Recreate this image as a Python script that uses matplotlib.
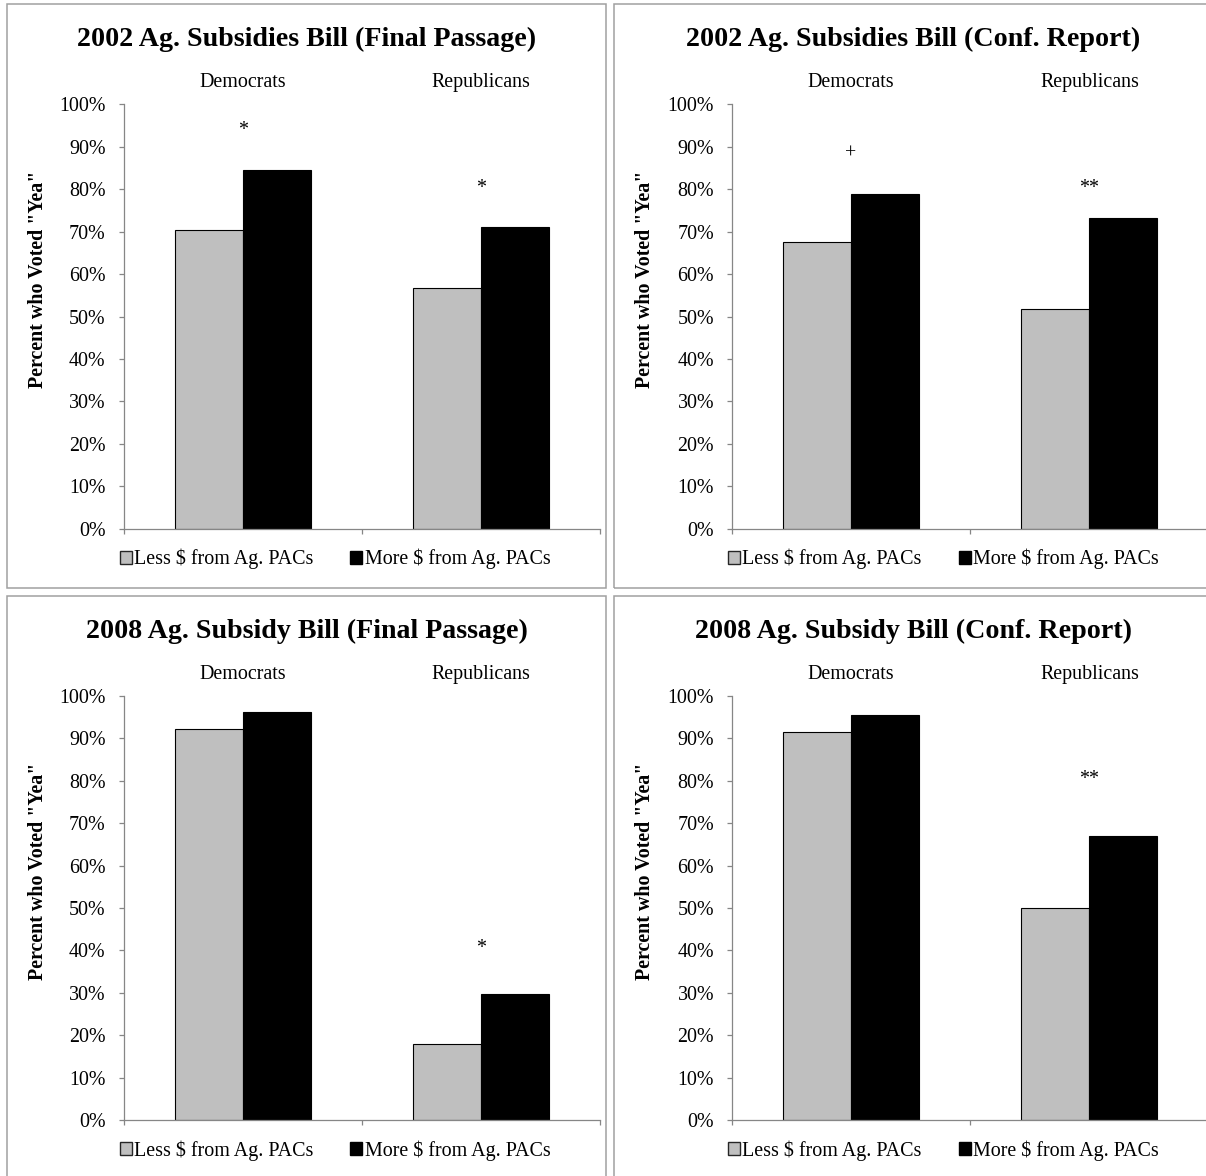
import matplotlib
matplotlib.use("Agg")
import matplotlib.pyplot as plt
from matplotlib.patches import Rectangle, Patch
import numpy as np

plt.rcParams['font.family'] = ['Liberation Serif', 'DejaVu Serif']

# ---------------- data ----------------
titles = [
    "2002 Ag. Subsidies Bill (Final Passage)",
    "2002 Ag. Subsidies Bill (Conf. Report)",
    "2008 Ag. Subsidy Bill (Final Passage)",
    "2008 Ag. Subsidy Bill (Conf. Report)",
]
categories = ["Democrats", "Republicans"]
series_names = ["Less $ from Ag. PACs", "More $ from Ag. PACs"]

less_2002_final = [70.4, 56.8]
more_2002_final = [84.6, 71.0]
less_2002_conf = [67.6, 51.7]
more_2002_conf = [78.8, 73.2]
less_2008_final = [92.2, 18.0]
more_2008_final = [96.3, 29.6]
less_2008_conf = [91.6, 50.0]
more_2008_conf = [95.6, 67.0]

# significance markers and the height (in %) where they appear
marks_2002_final = ["*", "*"]
markpos_2002_final = [94.9, 81.4]
marks_2002_conf = ["+", "**"]
markpos_2002_conf = [88.3, 81.4]
marks_2008_final = ["", "*"]
markpos_2008_final = [None, 41.5]
marks_2008_conf = ["", "**"]
markpos_2008_conf = [None, 81.5]

ytick_vals = list(range(0, 101, 10))
ytick_labels = [f"{v}%" for v in ytick_vals]
ylabel = 'Percent who Voted "Yea"'

less_all = [less_2002_final, less_2002_conf, less_2008_final, less_2008_conf]
more_all = [more_2002_final, more_2002_conf, more_2008_final, more_2008_conf]
marks_all = [marks_2002_final, marks_2002_conf, marks_2008_final, marks_2008_conf]
markpos_all = [markpos_2002_final, markpos_2002_conf, markpos_2008_final, markpos_2008_conf]

# ---------------- layout (pixels) ----------------
W, H = 1206, 1176
fig = plt.figure(figsize=(W / 100, H / 100), dpi=100)
fig.patch.set_facecolor("white")

box_x0 = [7, 614]
box_y0 = [4, 596]
box_w, box_h = 599, 584
ax_left = [123.5, 732.0]
ax_width = 476.5
ax_top = [104.3, 696.0]
ax_bottom = [528.7, 1120.0]

GRAY = "#BFBFBF"
AXC = "#868686"
BORDER = "#A0A0A0"
FS = 14.4
TFS = 20.2
px2pt = 0.72

glyph_center_px = {"*": 9.4, "**": 9.4, "+": 5.0}

for idx in range(4):
    row, col = divmod(idx, 2)
    x0, y0 = box_x0[col], box_y0[row]

    # panel border
    fig.patches.append(Rectangle((x0 / W, 1 - (y0 + box_h) / H), box_w / W, box_h / H,
                                 transform=fig.transFigure, fill=False,
                                 edgecolor=BORDER, linewidth=1.1, zorder=0))

    l = ax_left[col]
    t = ax_top[row]
    b = ax_bottom[row]
    ax = fig.add_axes([l / W, 1 - b / H, ax_width / W, (b - t) / H])

    x = np.arange(len(categories))
    bw = 68 / 238
    ax.bar(x - bw / 2, less_all[idx], width=bw, color=GRAY, edgecolor="black",
           linewidth=0.8, zorder=2)
    ax.bar(x + bw / 2, more_all[idx], width=bw, color="black", edgecolor="black",
           linewidth=0.8, zorder=2)

    ax.set_xlim(-0.5, 1.5)
    ax.set_ylim(0, 100)
    ax.set_yticks(ytick_vals)
    ax.set_yticklabels(ytick_labels, fontsize=FS)
    ax.set_xticks([-0.5, 0.5, 1.5])
    ax.set_xticklabels([])
    ax.tick_params(axis="y", direction="out", length=5 * px2pt, width=0.9,
                   color=AXC, pad=13 * px2pt, labelcolor="black")
    ax.tick_params(axis="x", direction="out", length=5 * px2pt, width=0.9,
                   color=AXC)
    for s in ["top", "right"]:
        ax.spines[s].set_visible(False)
    for s in ["left", "bottom"]:
        ax.spines[s].set_color(AXC)
        ax.spines[s].set_linewidth(0.9)
    ax.set_facecolor("none")

    # category labels on top
    for i, c in enumerate(categories):
        ax.annotate(c, xy=(i, 1), xycoords=("data", "axes fraction"),
                    xytext=(0, 17 * px2pt), textcoords="offset points",
                    ha="center", va="baseline", fontsize=FS)

    # significance markers
    for i, (m, p) in enumerate(zip(marks_all[idx], markpos_all[idx])):
        if m and p is not None:
            ax.annotate(m, xy=(i, p), xycoords="data",
                        xytext=(0, -glyph_center_px[m] * px2pt), textcoords="offset points",
                        ha="center", va="baseline", fontsize=FS)

    # title and y label
    fig.text((x0 + 299.5) / W, 1 - (y0 + 42) / H, titles[idx], ha="center",
             va="baseline", fontsize=TFS, fontweight="bold")
    fig.text((x0 + 31) / W, 1 - (y0 + 275.5) / H, ylabel, rotation=90,
             ha="center", va="center", fontsize=FS, fontweight="bold")

    # legend
    handles = [Patch(facecolor=GRAY, edgecolor="#262626", linewidth=1.0, label=series_names[0]),
               Patch(facecolor="black", edgecolor="black", linewidth=1.0, label=series_names[1])]
    ax.legend(handles=handles, loc="center left",
              bbox_to_anchor=((l - 4) / W, 1 - (b + 30.5) / H),
              bbox_transform=fig.transFigure, frameon=False, ncol=2,
              borderpad=0, borderaxespad=0, handlelength=0.6, handleheight=0.6,
              handletextpad=0.12, columnspacing=1.85, fontsize=FS)

fig.savefig("out.png", dpi=100, facecolor="white")
